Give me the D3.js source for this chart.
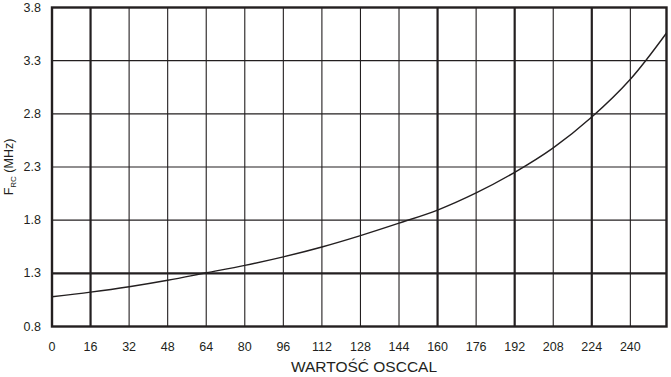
<!DOCTYPE html>
<html>

<head>
    <title>OSCCAL</title>
    <script src="https://d3js.org/d3.v7.min.js"></script>
    <style>
        body {
            margin: 0;
            padding: 0;
            background: #fff;
            overflow: hidden;
        }

        text {
            font-family: "Liberation Sans", Arial, sans-serif;
            fill: #231f20;
        }
    </style>
</head>

<body>
    <script>
        var width = 671,
            height = 377;

        // values
        var osccal = [0, 16, 32, 48, 64, 80, 96, 112, 128, 144, 160, 176, 192, 208, 224, 240, 255];
        var freq = [1.08, 1.123, 1.174, 1.235, 1.305, 1.375, 1.455, 1.548, 1.655, 1.772, 1.895, 2.056, 2.25, 2.48, 2.77, 3.125, 3.56];
        var xTicks = [0, 16, 32, 48, 64, 80, 96, 112, 128, 144, 160, 176, 192, 208, 224, 240];
        var yTicks = [0.8, 1.3, 1.8, 2.3, 2.8, 3.3, 3.8];
        var thickX = [16, 160, 192, 224];
        var thickY = [1.3];

        var x = d3.scaleLinear().domain([0, 255]).range([52, 666.5]);
        var y = d3.scaleLinear().domain([0.8, 3.8]).range([326.5, 7.5]);

        var svg = d3.select("body").append("svg")
            .attr("width", width)
            .attr("height", height);

        // vertical grid
        svg.append("g").selectAll("line")
            .data(xTicks.filter((d) => d > 0))
            .enter().append("line")
            .attr("x1", (d) => x(d)).attr("x2", (d) => x(d))
            .attr("y1", y(3.8)).attr("y2", y(0.8))
            .attr("stroke", "#231f20")
            .attr("stroke-width", (d) => thickX.indexOf(d) >= 0 ? 2.2 : 1.1);

        // horizontal grid
        svg.append("g").selectAll("line")
            .data(yTicks.slice(1, -1))
            .enter().append("line")
            .attr("x1", x(0)).attr("x2", x(255))
            .attr("y1", (d) => y(d)).attr("y2", (d) => y(d))
            .attr("stroke", "#231f20")
            .attr("stroke-width", (d) => thickY.indexOf(d) >= 0 ? 2.4 : 1.1);

        // frame
        svg.append("rect")
            .attr("x", x(0)).attr("y", y(3.8))
            .attr("width", x(255) - x(0)).attr("height", y(0.8) - y(3.8))
            .attr("fill", "none")
            .attr("stroke", "#231f20")
            .attr("stroke-width", 2.4);

        // curve
        var line = d3.line()
            .x((d, i) => x(osccal[i]))
            .y((d) => y(d))
            .curve(d3.curveCatmullRom.alpha(0.5));

        svg.append("path")
            .datum(freq)
            .attr("d", line)
            .attr("fill", "none")
            .attr("stroke", "#231f20")
            .attr("stroke-width", 1.4);

        // x tick labels
        svg.append("g").selectAll("text")
            .data(xTicks)
            .enter().append("text")
            .attr("x", (d) => x(d))
            .attr("y", 351)
            .attr("text-anchor", "middle")
            .style("font-size", "12.5px")
            .text((d) => d);

        // y tick labels
        svg.append("g").selectAll("text")
            .data(yTicks)
            .enter().append("text")
            .attr("x", 41)
            .attr("y", (d) => y(d) + 4)
            .attr("text-anchor", "end")
            .style("font-size", "12.5px")
            .text((d) => d.toFixed(1));

        // axis titles
        svg.append("text")
            .attr("x", 364)
            .attr("y", 372)
            .attr("text-anchor", "middle")
            .style("font-size", "15.5px")
            .text("WARTOŚĆ OSCCAL");

        var yt = svg.append("text")
            .attr("transform", "translate(13,167) rotate(-90)")
            .attr("text-anchor", "middle")
            .style("font-size", "12.5px");
        yt.append("tspan").text("F");
        yt.append("tspan").attr("dy", 3).style("font-size", "8px").text("RC");
        yt.append("tspan").attr("dy", -3).text(" (MHz)");
    </script>
</body>

</html>
